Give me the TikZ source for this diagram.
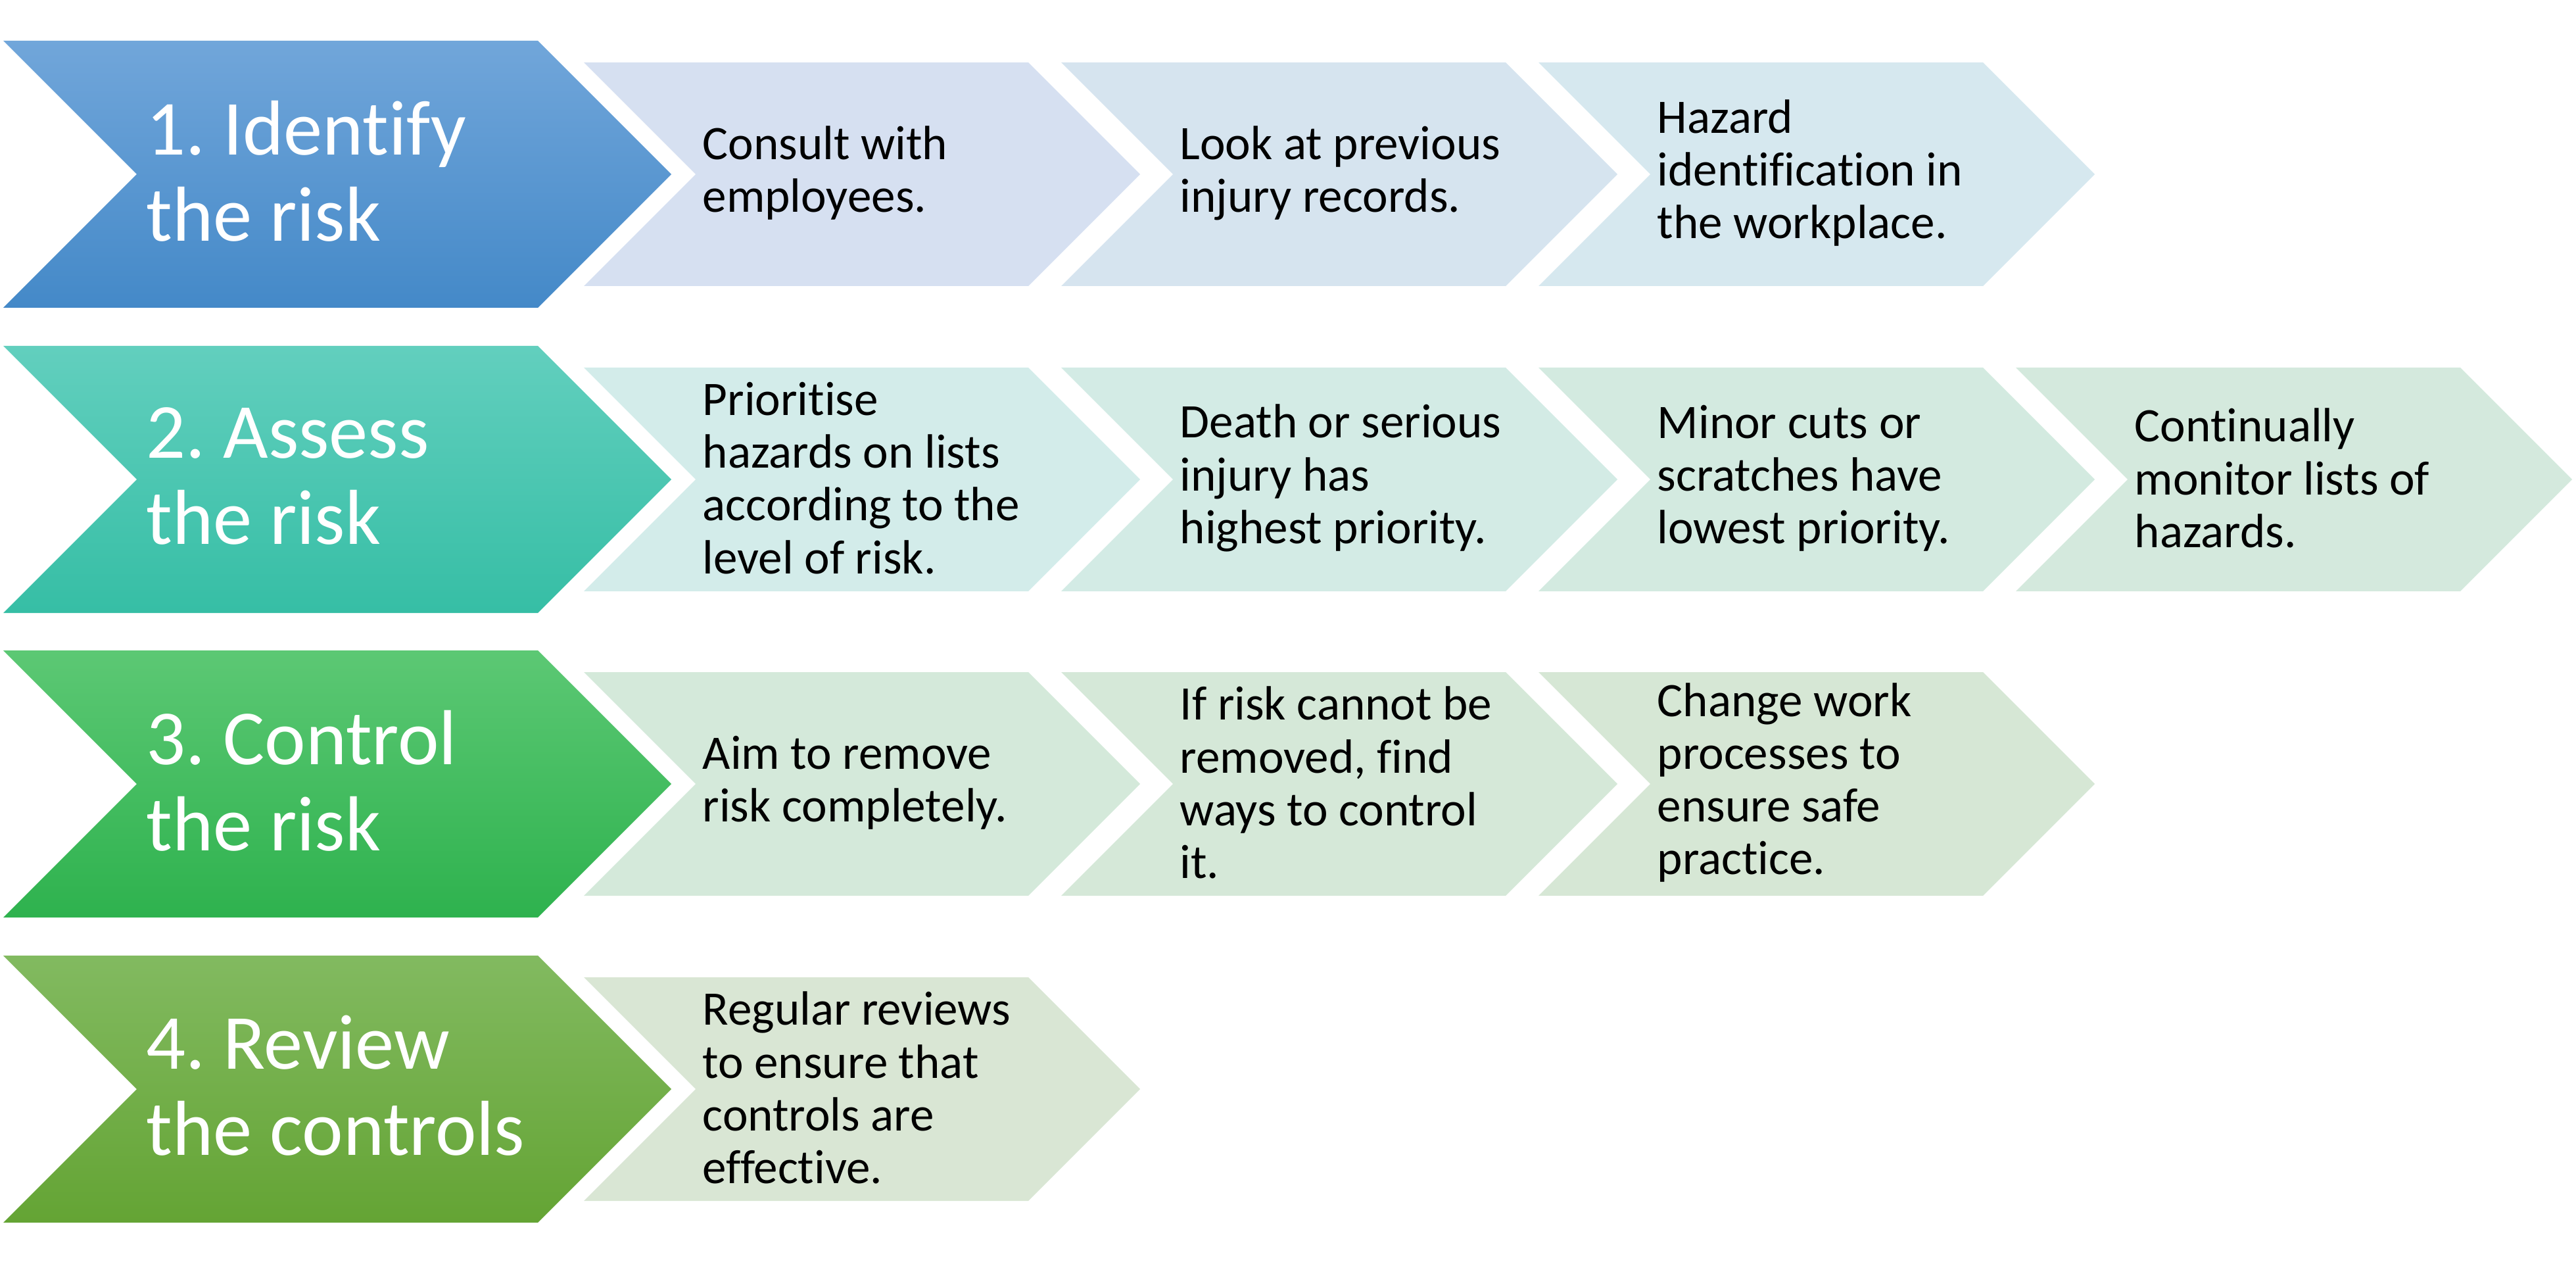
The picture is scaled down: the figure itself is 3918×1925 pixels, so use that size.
\documentclass[tikz,border=0pt]{standalone}
\usepackage{fontspec}
\setmainfont{Carlito}[Ligatures=NoCommon]
\usepackage{xcolor}
\usepackage{tikz}
\usetikzlibrary{positioning}
\frenchspacing

% colours of the step chevrons
\definecolor{identtop}{HTML}{71A6DA}
\definecolor{identbot}{HTML}{4489C8}
\definecolor{assesstop}{HTML}{62CFBE}
\definecolor{assessbot}{HTML}{36BEA5}
\definecolor{controltop}{HTML}{5CC874}
\definecolor{controlbot}{HTML}{2EB24E}
\definecolor{reviewtop}{HTML}{82BA60}
\definecolor{reviewbot}{HTML}{64A434}

% colours of the detail chevrons
\definecolor{identA}{HTML}{D6E0F1}
\definecolor{identB}{HTML}{D6E4EF}
\definecolor{identC}{HTML}{D6E8EF}
\definecolor{assessA}{HTML}{D3ECEA}
\definecolor{assessB}{HTML}{D3EBE5}
\definecolor{assessC}{HTML}{D3EAE0}
\definecolor{assessD}{HTML}{D4E9DD}
\definecolor{controlA}{HTML}{D4E9DA}
\definecolor{controlB}{HTML}{D5E8D8}
\definecolor{controlC}{HTML}{D6E7D5}
\definecolor{reviewA}{HTML}{D9E6D4}

% left x, centre y, width to the tip, half height
\newcommand{\chevronpath}[4]{({#1},{#2-#4}) -- ({#1+#3-#4},{#2-#4}) -- ({#1+#3},{#2}) -- ({#1+#3-#4},{#2+#4}) -- ({#1},{#2+#4}) -- ({#1+#4},{#2}) -- cycle}

\begin{document}
\begin{tikzpicture}[
    x=0.01cm, y=-0.01cm,
    steptext/.style={anchor=west, inner sep=0pt, align=left, text=white, font=\fontsize{33.7}{37.3}\selectfont},
    detailtext/.style={anchor=west, inner sep=0pt, align=left, text=black, font=\fontsize{20.8}{22.8}\selectfont}
]
\useasboundingbox (0,0) rectangle (3918,1925);

% Step chevrons
\shade[top color=identtop, bottom color=identbot] \chevronpath{5}{265}{1016}{203};
\shade[top color=assesstop, bottom color=assessbot] \chevronpath{5}{729}{1016}{203};
\shade[top color=controltop, bottom color=controlbot] \chevronpath{5}{1192}{1016}{203};
\shade[top color=reviewtop, bottom color=reviewbot] \chevronpath{5}{1656}{1016}{203};

\node[steptext] (identify) at (222, 260) {1. Identify\\the risk};
\node[steptext] (assess) at (222, 724) {2. Assess\\the risk};
\node[steptext] (control) at (222, 1187) {3. Control\\the risk};
\node[steptext] (review) at (222, 1651) {4. Review\\the controls};

% Detail chevrons, row 1
\fill[identA] \chevronpath{888}{265}{846}{170};
\fill[identB] \chevronpath{1614}{265}{846}{170};
\fill[identC] \chevronpath{2340}{265}{846}{170};
\node[detailtext] (identify1) at (1068, 263) {Consult with\\employees.};
\node[detailtext] (identify2) at (1794, 263) {Look at previous\\injury records.};
\node[detailtext] (identify3) at (2520, 263) {Hazard\\identification in\\the workplace.};

% Detail chevrons, row 2
\fill[assessA] \chevronpath{888}{729}{846}{170};
\fill[assessB] \chevronpath{1614}{729}{846}{170};
\fill[assessC] \chevronpath{2340}{729}{846}{170};
\fill[assessD] \chevronpath{3066}{729}{846}{170};
\node[detailtext] (assess1) at (1068, 727) {Prioritise\\hazards on lists\\according to the\\level of risk.};
\node[detailtext] (assess2) at (1794, 727) {Death or serious\\injury has\\highest priority.};
\node[detailtext] (assess3) at (2520, 727) {Minor cuts or\\scratches have\\lowest priority.};
\node[detailtext] (assess4) at (3246, 727) {Continually\\monitor lists of\\hazards.};

% Detail chevrons, row 3
\fill[controlA] \chevronpath{888}{1192}{846}{170};
\fill[controlB] \chevronpath{1614}{1192}{846}{170};
\fill[controlC] \chevronpath{2340}{1192}{846}{170};
\node[detailtext] (control1) at (1068, 1190) {Aim to remove\\risk completely.};
\node[detailtext] (control2) at (1794, 1190) {If risk cannot be\\removed, find\\ways to control\\it.};
\node[detailtext] (control3) at (2520, 1190) {Change work\\processes to\\ensure safe\\practice.};

% Detail chevron, row 4
\fill[reviewA] \chevronpath{888}{1656}{846}{170};
\node[detailtext] (review1) at (1068, 1654) {Regular reviews\\to ensure that\\controls are\\effective.};

\end{tikzpicture}
\end{document}
